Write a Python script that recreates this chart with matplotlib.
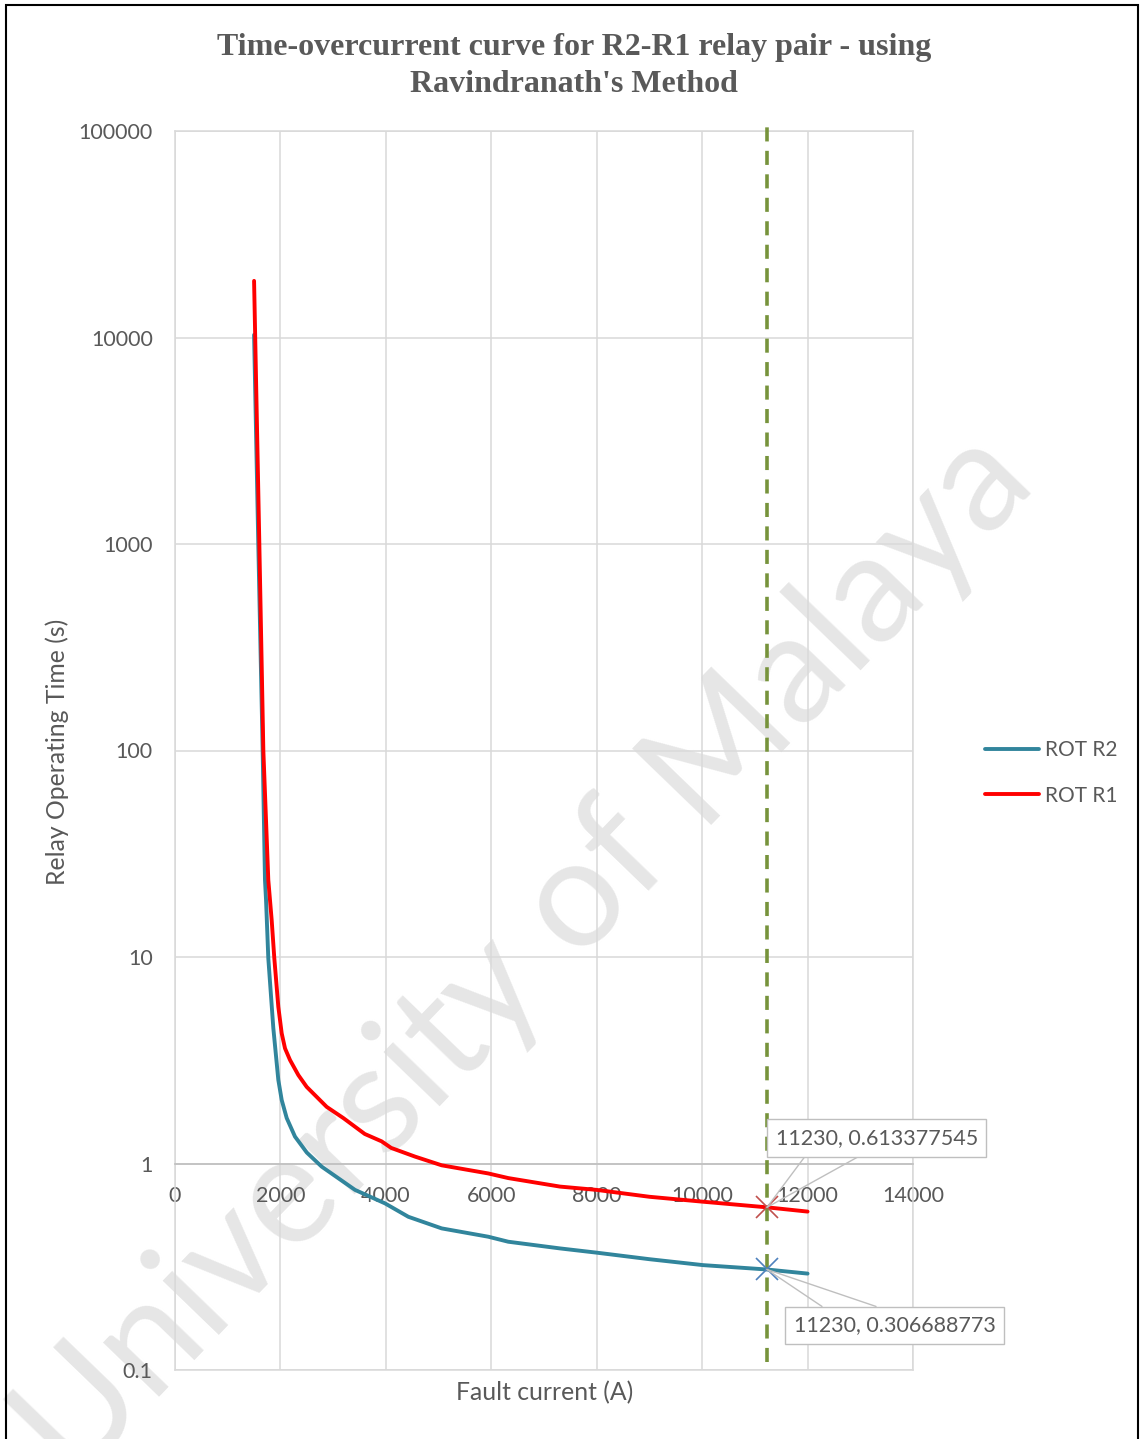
import matplotlib
matplotlib.use('Agg')
import matplotlib.pyplot as plt
from matplotlib.ticker import NullLocator
from matplotlib.patches import Rectangle

# ---- data ----
current_r2 = [1500, 1580, 1663, 1707, 1727, 1770, 1865, 1960, 2024, 2119, 2276, 2500, 2782,
              3415, 3984, 4427, 5059, 5943, 6322, 7303, 8000, 9000, 10018, 11230, 12000]
time_r2 = [10300, 1000, 100, 23.6, 18.9, 9.86, 4.53, 2.54, 2.03, 1.66, 1.35, 1.13, 0.966,
           0.745, 0.641, 0.552, 0.485, 0.442, 0.418, 0.388, 0.370, 0.344, 0.322, 0.3067, 0.293]

current_r1 = [1500, 1600, 1676, 1770, 1834, 1884, 1960, 2024, 2087, 2182, 2340, 2498, 2878, 3193,
              3600, 3920, 4100, 4553, 5059, 5943, 6322, 7303, 8000, 9000, 10018, 11230, 12000]
time_r1 = [18800, 1000, 100, 23.6, 15.1, 9.86, 5.74, 4.27, 3.61, 3.17, 2.68, 2.35, 1.88, 1.66,
           1.39, 1.28, 1.19, 1.08, 0.98, 0.895, 0.85, 0.773, 0.745, 0.69, 0.653, 0.6134, 0.585]

marker_current = 11230
marker_r1 = 0.613377545
marker_r2 = 0.306688773

x_ticks = [0, 2000, 4000, 6000, 8000, 10000, 12000, 14000]
y_ticks = [0.1, 1, 10, 100, 1000, 10000, 100000]
y_tick_labels = ['0.1', '1', '10', '100', '1000', '10000', '100000']

title = "Time-overcurrent curve for R2-R1 relay pair - using\nRavindranath's Method"
series_labels = ['ROT R2', 'ROT R1']

# ---- style ----
plt.rcParams['font.family'] = ['Lato', 'DejaVu Sans']
TXT = '#595959'
GRID = '#D9D9D9'
FS = 15.5

W, H = 1141, 1439
fig = plt.figure(figsize=(W / 100, H / 100), dpi=100)
ax = fig.add_axes([175 / W, 1 - 1370 / H, 738 / W, 1239 / H])
ax.set_facecolor('none')

ax.set_yscale('log')
ax.set_xlim(0, 14000)
ax.set_ylim(0.1, 100000)
ax.set_xticks(x_ticks)
ax.set_xticklabels([str(v) for v in x_ticks])
ax.set_yticks(y_ticks)
ax.set_yticklabels(y_tick_labels)
ax.yaxis.set_minor_locator(NullLocator())
ax.tick_params(axis='y', length=0, pad=16, labelsize=FS, labelcolor=TXT)
ax.tick_params(axis='x', length=0, pad=16.5, labelsize=FS, labelcolor=TXT)

ax.grid(True, color=GRID, lw=1.1)
ax.set_axisbelow(True)
for s in ['left', 'right', 'top']:
    ax.spines[s].set_color(GRID)
    ax.spines[s].set_linewidth(1.1)
ax.spines['bottom'].set_position(('data', 1))
ax.spines['bottom'].set_color('#BFBFBF')
ax.spines['bottom'].set_linewidth(1.2)
ax.axhline(0.1, color=GRID, lw=1.1, clip_on=False, zorder=1)

# curves
l2, = ax.plot(current_r2, time_r2, color='#31859C', lw=2.8, zorder=3,
              solid_capstyle='round', solid_joinstyle='round')
l1, = ax.plot(current_r1, time_r1, color='#FF0000', lw=2.8, zorder=3,
              solid_capstyle='round', solid_joinstyle='round')

# vertical dashed line
ax.axvline(marker_current, ymin=0.0065, ymax=1.005, color='#77933C', lw=2.6,
           dashes=(3.9, 2.6), clip_on=False, zorder=3.5)

# markers
ax.plot([marker_current], [marker_r1], ls='none', marker='x', ms=16, mew=1.2,
        color='#C0504D', zorder=4)
ax.plot([marker_current], [marker_r2], ls='none', marker='x', ms=16, mew=1.2,
        color='#4F81BD', zorder=4)

# callouts
def callout(yv, text_off, leg1, leg2):
    for off in (leg1, leg2):
        ax.annotate('', xy=(marker_current, yv), xytext=off, textcoords='offset points',
                    arrowprops=dict(arrowstyle='-', color='#BFBFBF', lw=1,
                                    shrinkA=0, shrinkB=0), zorder=5)
    ax.annotate(f"{marker_current}, {yv}", xy=(marker_current, yv), xytext=text_off,
                textcoords='offset points', ha='center', va='center', fontsize=FS,
                color=TXT, zorder=6,
                bbox=dict(boxstyle='square,pad=0.4', fc='white', ec='#BFBFBF', lw=1))

callout(marker_r1, (79, 50), (27.4, 36.7), (66.2, 36.7))
callout(marker_r2, (92, -40.3), (39.6, -26.6), (78.5, -26.6))

# axis labels
fig.text(57 / W, 1 - 752 / H, 'Relay Operating Time (s)', rotation=90, ha='center',
         va='center', fontsize=17.8, color=TXT)
fig.text(545 / W, 1 - 1393 / H, 'Fault current (A)', ha='center', va='center',
         fontsize=17.8, color=TXT)

# title
fig.text(574 / W, 1 - 66 / H, title, ha='center', va='center',
         fontfamily='Liberation Serif', fontweight='bold', fontsize=23, color=TXT,
         linespacing=1.33)

# legend
fig.legend(handles=[l2, l1], labels=series_labels, loc='center left',
           bbox_to_anchor=(985 / W, 1 - 773 / H), frameon=False, handlelength=2.6,
           handletextpad=0.3, labelspacing=1.2, borderpad=0, borderaxespad=0,
           fontsize=15, labelcolor=TXT)

# watermark (runs off the page edge as in the reference)
fig.text(525 / W, 1 - 955 / H, 'University of Malaya', rotation=46, ha='center',
         va='center', fontsize=110, color='#E6E6E6', zorder=-1)

# page border
fig.patches.append(Rectangle((6 / W, -0.01), (1138 - 6) / W, 1.01 - 5 / H,
                             transform=fig.transFigure, fill=False, ec='black',
                             lw=1.5))

fig.savefig('out.png', dpi=100)
